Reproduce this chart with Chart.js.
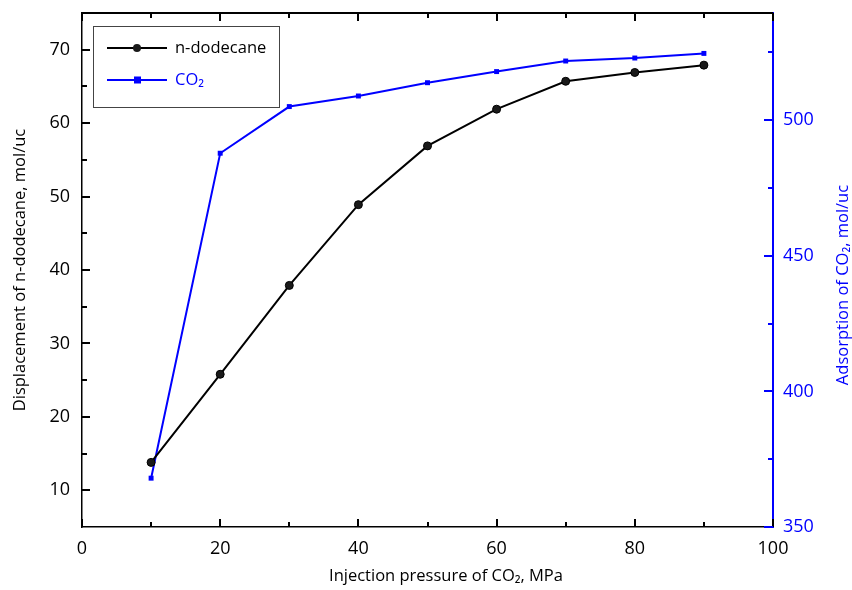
<!DOCTYPE html>
<html>
<head>
<meta charset="utf-8">
<script src="https://cdn.jsdelivr.net/npm/chart.js@4.4.0/dist/chart.umd.min.js"></script>
<style>
    html, body { margin: 0; padding: 0; background: #fff; }
</style>
</head>
<body>
<canvas id="myChart" width="852" height="590"></canvas>
<script>
const pressure = [10, 20, 30, 40, 50, 60, 70, 80, 90];
const dodecane = [13.8, 25.8, 37.9, 48.9, 56.9, 61.9, 65.7, 66.9, 67.9];
const co2Adsorption = [368, 487.8, 505, 508.9, 513.8, 517.9, 521.8, 522.9, 524.6];

const xTicks = [0, 20, 40, 60, 80, 100];
const xMinor = [10, 30, 50, 70, 90];
const leftTicks = [10, 20, 30, 40, 50, 60, 70];
const leftMinor = [15, 25, 35, 45, 55, 65];
const rightTicks = [350, 400, 450, 500];
const rightMinor = [375, 425, 475, 525];

const BLUE = '#0000ff';
const FONT = "'Open Sans', 'Noto Sans', sans-serif";

function toPoints(xs, ys) {
    return xs.map((x, i) => ({ x: x, y: ys[i] }));
}

function fixTicks(list) {
    return function (scale) {
        scale.ticks = list.map(v => ({ value: v }));
    };
}

// vertical axes: fixed width and no extra room kept for half labels
function fitVertical(width) {
    return function (scale) {
        scale.width = width;
        scale.paddingTop = 0;
        scale.paddingBottom = 0;
    };
}

// inward tick marks on all four sides, plus the top frame line
const frameTicks = {
    id: 'frameTicks',
    afterDraw(chart) {
        const { ctx, chartArea: a, scales } = chart;
        const L = Math.round(a.left), R = Math.round(a.right);
        const T = Math.round(a.top), B = Math.round(a.bottom);
        ctx.save();
        ctx.fillStyle = '#000';
        ctx.fillRect(L - 1, T - 1, R - L + 1, 2);

        xTicks.forEach(v => {
            const px = Math.round(scales.x.getPixelForValue(v));
            ctx.fillRect(px - 1, B - 8, 2, 8);
            ctx.fillRect(px - 1, T, 2, 8);
        });
        xMinor.forEach(v => {
            const px = Math.round(scales.x.getPixelForValue(v));
            ctx.fillRect(px - 1, B - 5, 2, 5);
            ctx.fillRect(px - 1, T, 2, 5);
        });
        leftTicks.forEach(v => {
            const py = Math.round(scales.y.getPixelForValue(v));
            ctx.fillRect(L, py - 1, 8, 2);
        });
        leftMinor.forEach(v => {
            const py = Math.round(scales.y.getPixelForValue(v));
            ctx.fillRect(L, py - 1, 5, 2);
        });
        ctx.fillStyle = BLUE;
        rightTicks.forEach(v => {
            const py = Math.round(scales.y2.getPixelForValue(v));
            ctx.fillRect(R - 9, py - 1, 9, 2);
        });
        rightMinor.forEach(v => {
            const py = Math.round(scales.y2.getPixelForValue(v));
            ctx.fillRect(R - 5, py - 1, 5, 2);
        });
        ctx.restore();
    }
};

// legend box inside the plot, x title and right axis title (reads bottom to top)
const extras = {
    id: 'extras',
    afterDraw(chart) {
        const { ctx, chartArea: a } = chart;
        const sets = chart.data.datasets;
        ctx.save();

        const bx = a.left + 11, by = a.top + 13;
        ctx.fillStyle = '#fff';
        ctx.fillRect(bx, by, 186, 81);
        ctx.strokeStyle = '#444';
        ctx.lineWidth = 1;
        ctx.strokeRect(bx + 0.5, by + 0.5, 186, 81);

        ctx.font = '16.5px ' + FONT;
        ctx.textBaseline = 'middle';
        ctx.textAlign = 'left';
        const rows = [by + 22, by + 54];
        sets.forEach((ds, i) => {
            const y = rows[i];
            ctx.strokeStyle = ds.borderColor;
            ctx.lineWidth = 2;
            ctx.beginPath();
            ctx.moveTo(bx + 14, y);
            ctx.lineTo(bx + 74, y);
            ctx.stroke();
            ctx.fillStyle = ds.pointBackgroundColor;
            if (ds.pointStyle === 'rect') {
                ctx.fillRect(bx + 41, y - 3.5, 7, 7);
            } else {
                ctx.beginPath();
                ctx.arc(bx + 44, y, 4, 0, Math.PI * 2);
                ctx.fill();
            }
            ctx.fillStyle = ds.borderColor;
            ctx.fillText(ds.label, bx + 82, y);
        });

        ctx.textAlign = 'center';
        ctx.fillStyle = '#000';
        ctx.fillText('Injection pressure of CO\u2082, MPa', 446, 576);

        ctx.translate(843, 285);
        ctx.rotate(-Math.PI / 2);
        ctx.fillStyle = BLUE;
        ctx.fillText('Adsorption of CO\u2082, mol/uc', 0, 0);
        ctx.restore();
    }
};

const ctx = document.getElementById('myChart');

new Chart(ctx, {
    type: 'line',
    data: {
        datasets: [{
            label: 'n-dodecane',
            data: toPoints(pressure, dodecane),
            yAxisID: 'y',
            borderColor: '#000',
            borderWidth: 2,
            pointStyle: 'circle',
            pointRadius: 4,
            pointBackgroundColor: '#1a1a1a',
            pointBorderColor: '#000',
            pointBorderWidth: 1
        }, {
            label: 'CO\u2082',
            data: toPoints(pressure, co2Adsorption),
            yAxisID: 'y2',
            borderColor: BLUE,
            borderWidth: 2,
            pointStyle: 'rect',
            pointRadius: 3.5,
            pointBackgroundColor: BLUE,
            pointBorderColor: BLUE,
            pointBorderWidth: 0
        }]
    },
    options: {
        responsive: false,
        animation: false,
        layout: { padding: { top: 13, left: 0, right: 0, bottom: 0 } },
        plugins: {
            legend: { display: false },
            tooltip: { enabled: false }
        },
        scales: {
            x: {
                type: 'linear',
                min: 0,
                max: 100,
                afterBuildTicks: fixTicks(xTicks),
                afterFit: s => { s.height = 63; },
                grid: { display: false, drawTicks: false },
                border: { display: true, color: '#000', width: 1.5 },
                ticks: { padding: 11, color: '#000', font: { family: FONT, size: 18 } }
            },
            y: {
                position: 'left',
                min: 5,
                max: 75,
                afterBuildTicks: fixTicks(leftTicks),
                afterFit: fitVertical(82),
                grid: { display: false, drawTicks: false },
                border: { display: true, color: '#000', width: 1.5 },
                ticks: { padding: 12, color: '#000', font: { family: FONT, size: 18 } },
                title: {
                    display: true,
                    text: 'Displacement of n-dodecane, mol/uc',
                    color: '#000',
                    font: { family: FONT, size: 16.5 },
                    padding: { top: 10, bottom: 0 }
                }
            },
            y2: {
                position: 'right',
                min: 350,
                max: 539.5,
                afterBuildTicks: fixTicks(rightTicks),
                afterFit: fitVertical(79),
                grid: { display: false, drawTicks: false },
                border: { display: true, color: BLUE, width: 2 },
                ticks: { padding: 10, color: BLUE, font: { family: FONT, size: 18 } }
            }
        }
    },
    plugins: [frameTicks, extras]
});
</script>
</body>
</html>
